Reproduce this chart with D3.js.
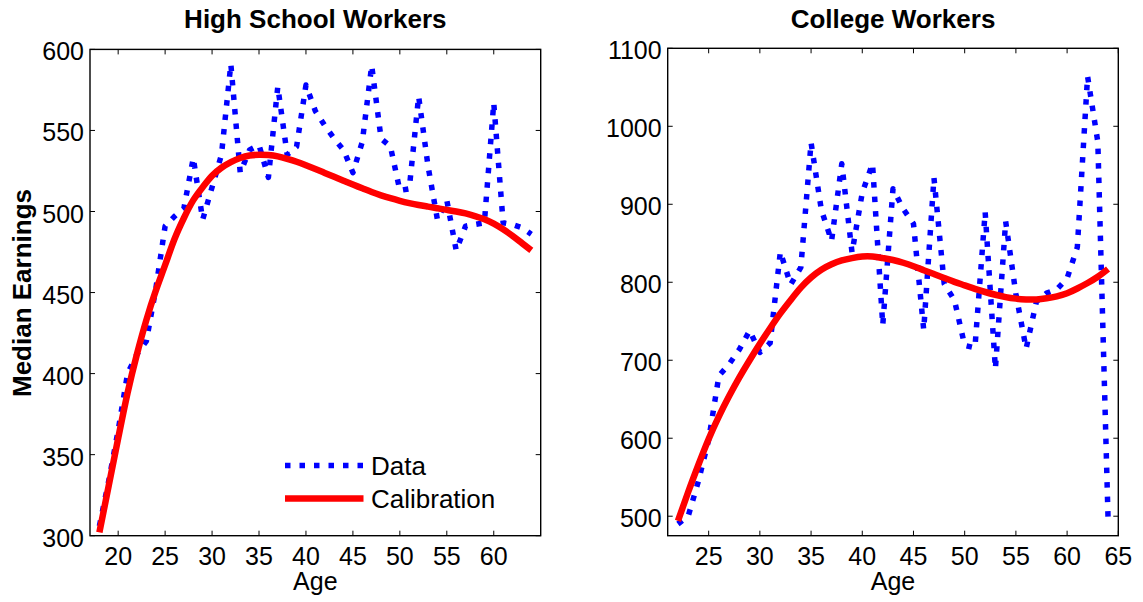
<!DOCTYPE html>
<html>
<head>
<meta charset="utf-8">
<script src="https://cdn.jsdelivr.net/npm/d3@7/dist/d3.min.js"></script>
<style>
  html, body { margin: 0; padding: 0; background: #ffffff; }
  svg { display: block; font-family: "Liberation Sans", Arial, Helvetica, sans-serif; }
</style>
</head>
<body>
<svg id="chart" width="1143" height="602"></svg>
<script>
// Median earnings by age: observed data vs. model calibration
const hsAges = [18,19,20,21,22,23,24,25,26,27,28,29,30,31,32,33,34,35,36,37,38,39,40,41,
                42,43,44,45,46,47,48,49,50,51,52,53,54,55,56,57,58,59,60,61,62,63,64];
const hsData = [306,334,365,400,412,420,452,491,497,502,533,495,515,535,591,524,538,541,521,577,535,540,578,562,
                553,545,538,524,543,590,545,540,513,514,571,528,495,507,476,491,492,493,567,493,492,490,486];
const hsCalib = [302,331,360,388,412,433,451,467,483,496,507,515,522,527,530.5,533,534.5,535,534.8,534,532.5,530.7,528.5,526.2,
                 523.8,521.4,519,516.6,514.3,512,510,508.2,506.6,505.2,504,503,502,501,500,498.8,497.2,495.2,492.5,489,485,480.5,476];

const colAges = [22,23,24,25,26,27,28,29,30,31,32,33,34,35,36,37,38,39,40,41,42,
                 43,44,45,46,47,48,49,50,51,52,53,54,55,56,57,58,59,60,61,62,63,64];
const colData = [490,500,545,598,680,695,714,738,710,722,839,797,819,979,893,853,952,838,915,952,745,
                 920,894,875,739,934,798,777,719,716,890,689,878,785,715,775,786,791,805,845,1064,980,497];
const colCalib = [494,531,566,599,628,654,678,700,721,741,760,777,793,806,816,823,828,831,833,833,831,
                  828.5,825,820.5,815.5,810.5,805.5,800.5,796,791.5,787.5,784,781,779,778,778,779.5,782,786,792,799,807,817];

const hsXTicks = [20,25,30,35,40,45,50,55,60];
const hsYTicks = [300,350,400,450,500,550,600];
const colXTicks = [25,30,35,40,45,50,55,60,65];
const colYTicks = [500,600,700,800,900,1000,1100];

const seriesNames = ["Data", "Calibration"];

const svg = d3.select("#chart");
const FONT = 25;
const FONT_LABEL = 26;

function panel(opt) {
  const x = d3.scaleLinear().domain(opt.xDomain).range([opt.left, opt.right]);
  const y = d3.scaleLinear().domain(opt.yDomain).range([opt.bottom, opt.top]);
  const g = svg.append("g");

  // Inward ticks on all four sides of the box
  const tickLen = 5;
  const tk = g.append("g").attr("stroke", "#000").attr("stroke-width", 1);
  opt.xTicks.forEach(v => {
    tk.append("line").attr("x1", x(v)).attr("x2", x(v)).attr("y1", opt.bottom).attr("y2", opt.bottom - tickLen);
    tk.append("line").attr("x1", x(v)).attr("x2", x(v)).attr("y1", opt.top).attr("y2", opt.top + tickLen);
  });
  opt.yTicks.forEach(v => {
    tk.append("line").attr("x1", opt.left).attr("x2", opt.left + tickLen).attr("y1", y(v)).attr("y2", y(v));
    tk.append("line").attr("x1", opt.right).attr("x2", opt.right - tickLen).attr("y1", y(v)).attr("y2", y(v));
  });

  // Series
  const clipId = "clip" + opt.id;
  svg.append("clipPath").attr("id", clipId).append("rect")
    .attr("x", opt.left).attr("y", opt.top)
    .attr("width", opt.right - opt.left).attr("height", opt.bottom - opt.top);
  const plot = g.append("g").attr("clip-path", `url(#${clipId})`);

  const dataLine = d3.line().x((d, i) => x(opt.ages[i])).y(d => y(d)).curve(d3.curveLinear);
  const calibLine = d3.line().x((d, i) => x(opt.ages[i])).y(d => y(d)).curve(d3.curveNatural);

  plot.append("path").datum(opt.data).attr("d", dataLine)
    .attr("fill", "none").attr("stroke", "#0000ff").attr("stroke-width", 5.5)
    .attr("stroke-dasharray", "5.5,9").attr("stroke-linejoin", "round");
  plot.append("path").datum(opt.calib).attr("d", calibLine)
    .attr("fill", "none").attr("stroke", "#ff0000").attr("stroke-width", 6.5)
    .attr("stroke-linejoin", "round");

  // Box
  g.append("rect").attr("x", opt.left).attr("y", opt.top)
    .attr("width", opt.right - opt.left).attr("height", opt.bottom - opt.top)
    .attr("fill", "none").attr("stroke", "#000").attr("stroke-width", 1.4);

  // Tick labels
  g.append("g").selectAll("text").data(opt.xTicks).join("text")
    .attr("x", d => x(d)).attr("y", opt.bottom + 29.5)
    .attr("text-anchor", "middle").attr("font-size", FONT).text(d => d);
  g.append("g").selectAll("text").data(opt.yTicks).join("text")
    .attr("x", opt.left - 6).attr("y", d => y(d) + 11)
    .attr("text-anchor", "end").attr("font-size", FONT).text(d => d);

  // Titles
  const cx = (opt.left + opt.right) / 2;
  g.append("text").attr("x", cx).attr("y", 28).attr("text-anchor", "middle")
    .attr("font-size", FONT_LABEL).attr("font-weight", "bold").text(opt.title);
  g.append("text").attr("x", cx).attr("y", 590).attr("text-anchor", "middle")
    .attr("font-size", FONT).text("Age");

  return { x, y, g };
}

panel({
  id: "hs", title: "High School Workers",
  left: 90, right: 540.7, top: 49.4, bottom: 535.7,
  xDomain: [17, 65], yDomain: [300, 600],
  xTicks: hsXTicks, yTicks: hsYTicks,
  ages: hsAges, data: hsData, calib: hsCalib
});

panel({
  id: "col", title: "College Workers",
  left: 667.7, right: 1118.3, top: 48.3, bottom: 535.7,
  xDomain: [21, 65], yDomain: [475, 1100],
  xTicks: colXTicks, yTicks: colYTicks,
  ages: colAges, data: colData, calib: colCalib
});

// Y axis title
svg.append("text")
  .attr("transform", "translate(31,293) rotate(-90)")
  .attr("text-anchor", "middle").attr("font-size", FONT_LABEL).attr("font-weight", "bold")
  .text("Median Earnings");

// Legend (no frame)
const legend = svg.append("g");
const legendRows = [
  { name: seriesNames[0], y: 465.5, stroke: "#0000ff", width: 5.5, dash: "5.5,9" },
  { name: seriesNames[1], y: 498.5, stroke: "#ff0000", width: 6.5, dash: null }
];
legendRows.forEach(r => {
  legend.append("line").attr("x1", 285).attr("x2", 363.5).attr("y1", r.y).attr("y2", r.y)
    .attr("stroke", r.stroke).attr("stroke-width", r.width)
    .attr("stroke-dasharray", r.dash);
  legend.append("text").attr("x", 371).attr("y", r.y + 9.5)
    .attr("font-size", FONT_LABEL).text(r.name);
});
</script>
</body>
</html>
